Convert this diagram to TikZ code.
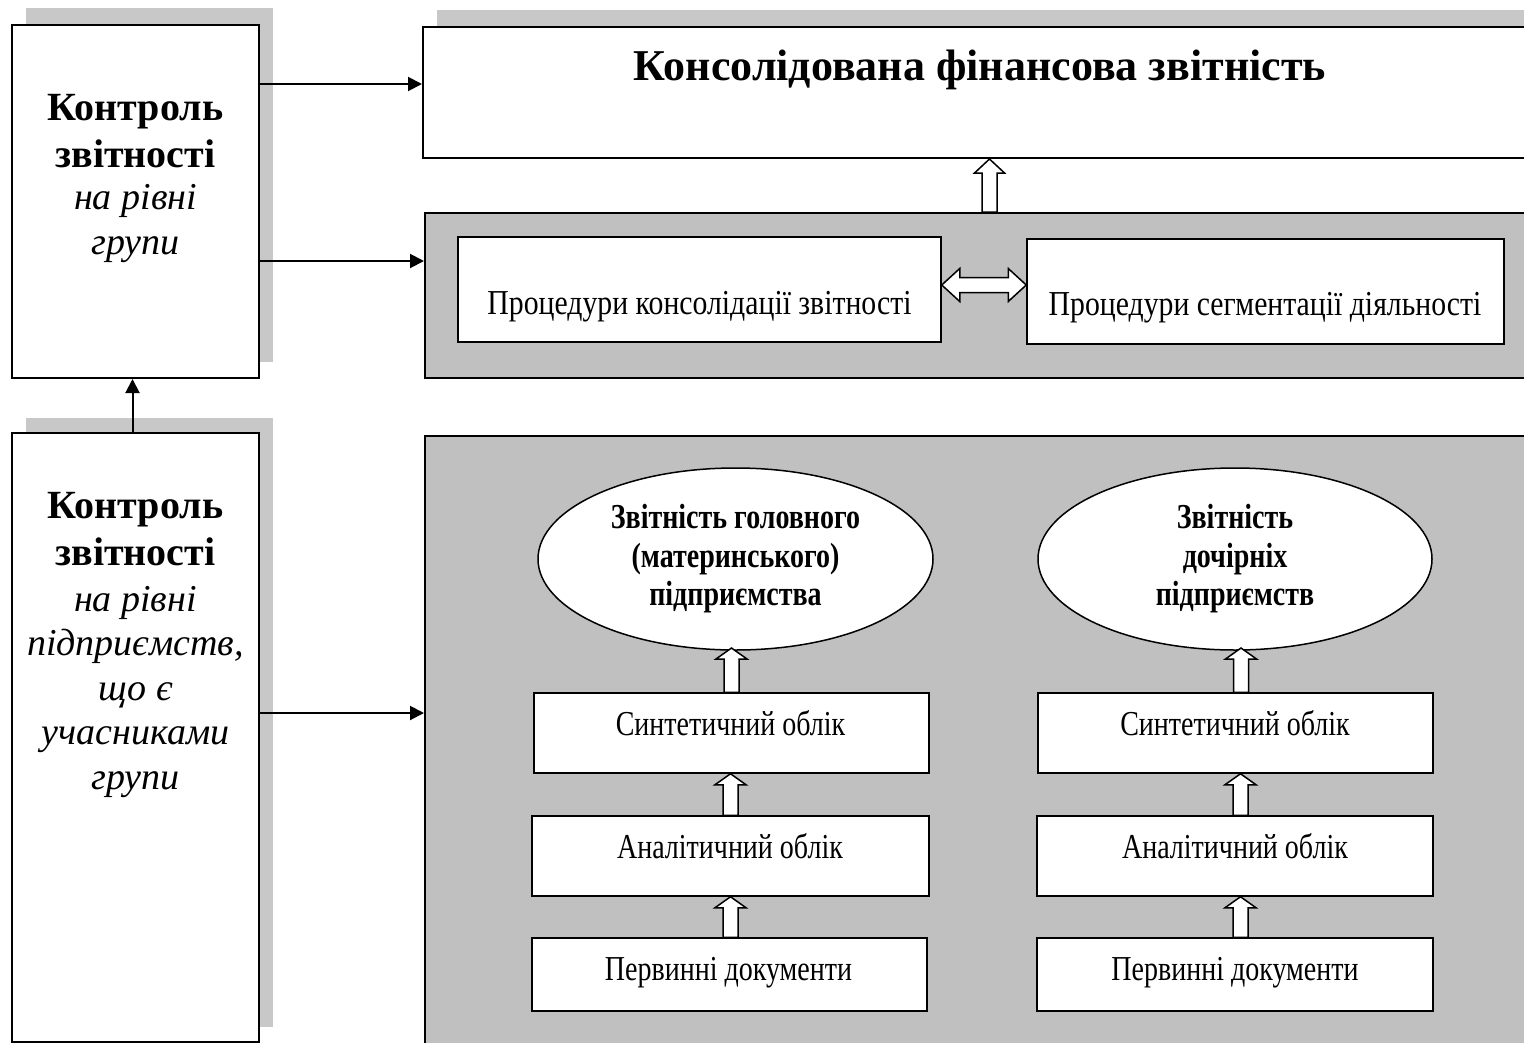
\documentclass[tikz,border=0pt]{standalone}
\usepackage{fontspec}
\setmainfont{Liberation Serif}
\newfontfamily\narrowserif[FakeStretch=0.8]{Liberation Serif}
\newfontfamily\procserif[FakeStretch=0.85]{Liberation Serif}
\usetikzlibrary{arrows.meta,calc,shapes.geometric}

\definecolor{panelgray}{HTML}{C0C0C0}
\definecolor{shadowgray}{HTML}{C8C8C8}

\tikzset{
  outerbox/.style={rectangle, draw=black, line width=2pt, fill=white, inner sep=0pt},
  innerbox/.style={rectangle, draw=black, line width=1.5pt, fill=white, inner sep=0pt},
  panel/.style={rectangle, draw=black, line width=2pt, fill=panelgray, inner sep=0pt},
  shadowfill/.style={fill=shadowgray, draw=none},
  feed/.style={line width=2pt, -{Triangle[length=14pt,width=14pt]}},
  hollowarrow/.style={draw=black, line width=1.5pt, fill=white, line join=miter},
  txt/.style={inner sep=0pt, anchor=base},
  headtxt/.style={txt, align=center, font=\bfseries\fontsize{40}{47}\selectfont},
  subtxt/.style={txt, align=center, font=\itshape\fontsize{38}{44.5}\selectfont},
  titletxt/.style={txt, font=\bfseries\fontsize{44}{50}\selectfont},
  celltxt/.style={txt, font=\narrowserif\fontsize{35}{40}\selectfont},
  proctxt/.style={txt, font=\procserif\fontsize{35}{40}\selectfont},
  elltxt/.style={ellipse, draw=black, line width=1.5pt, fill=white, inner sep=0pt,
    align=center, font=\narrowserif\bfseries\fontsize{35}{38.5}\selectfont},
}

% upward hollow arrow: tip, base, head half-width, head length
\newcommand{\hollowup}[4]{%
  \draw[hollowarrow] (#1) -- ($(#1)+(#3,#4)$) -- ($(#1)+(7.5,#4)$)
    -- ($(#2)+(7.5,0)$) -- ($(#2)+(-7.5,0)$) -- ($(#1)+(-7.5,#4)$)
    -- ($(#1)+(-#3,#4)$) -- cycle;}

\begin{document}
\begin{tikzpicture}[x=1pt,y=-1pt]
\useasboundingbox (0,0) rectangle (1524,1042);
\clip (0,0) rectangle (1524,1042);

% drop shadows
\fill[shadowfill] (26,8) rectangle (273,362);
\fill[shadowfill] (26,418) rectangle (273,1027);
\fill[shadowfill] (437,10) rectangle (1600,141);

% control boxes on the left (multi-line texts sit on their last baseline)
\node[outerbox, minimum width=247pt, minimum height=353pt] (ctl1) at (135.5,201.5) {};
\node[outerbox, minimum width=247pt, minimum height=609pt] (ctl2) at (135.5,737.5) {};
\node[headtxt] (ctl1head) at (135.5,167) {Контроль\\звітності};
\node[subtxt] (ctl1sub) at (135.5,254) {на рівні\\групи};
\node[headtxt] (ctl2head) at (135.5,565) {Контроль\\звітності};
\node[subtxt] (ctl2sub) at (135.5,789) {на рівні\\підприємств,\\що є\\учасниками\\групи};

% consolidated statements
\node[outerbox, minimum width=1137pt, minimum height=131pt] (consol) at (991.5,92.5) {};
\node[titletxt] (title) at (980,80) {Консолідована фінансова звітність};

% procedures panel
\node[panel, minimum width=1135pt, minimum height=165pt] (procbg) at (992.5,295.5) {};
\node[innerbox, minimum width=483pt, minimum height=105pt] (proc1) at (699.5,289.5) {};
\node[innerbox, minimum width=477pt, minimum height=105pt] (proc2) at (1265.5,291.5) {};
\node[proctxt] (proc1t) at (699.5,314) {Процедури консолідації звітності};
\node[proctxt] (proc2t) at (1265,315) {Процедури сегментації діяльності};

% accounting panel
\node[panel, minimum width=1135pt, minimum height=640pt] (accbg) at (992.5,756) {};

\node[elltxt, minimum width=395pt, minimum height=182pt] (ell1) at (735.5,559)
  {Звітність головного\\(материнського)\\підприємства};
\node[elltxt, minimum width=394pt, minimum height=182pt] (ell2) at (1235,559)
  {Звітність\\дочірніх\\підприємств};

\node[innerbox, minimum width=395pt, minimum height=80pt] (syn1) at (731.5,733) {};
\node[innerbox, minimum width=397pt, minimum height=80pt] (an1) at (730.5,856) {};
\node[innerbox, minimum width=395pt, minimum height=73pt] (pr1) at (729.5,974.5) {};
\node[innerbox, minimum width=395pt, minimum height=80pt] (syn2) at (1235.5,733) {};
\node[innerbox, minimum width=396pt, minimum height=80pt] (an2) at (1235,856) {};
\node[innerbox, minimum width=396pt, minimum height=73pt] (pr2) at (1235,974.5) {};

\node[celltxt] (syn1t) at (730.5,735) {Синтетичний облік};
\node[celltxt] (an1t) at (730,858) {Аналітичний облік};
\node[celltxt] (pr1t) at (728.5,980) {Первинні документи};
\node[celltxt] (syn2t) at (1235,735) {Синтетичний облік};
\node[celltxt] (an2t) at (1235,858) {Аналітичний облік};
\node[celltxt] (pr2t) at (1235,980) {Первинні документи};

% feed arrows from the control boxes
\draw[feed] (ctl1.east |- 0,84) -- (consol.west |- 0,84);
\draw[feed] (ctl1.east |- 0,261) -- (procbg.west |- 0,261);
\draw[feed] (ctl2.east |- 0,713) -- (accbg.west |- 0,713);
\draw[feed] ([xshift=-3pt]ctl2.north) -- ([xshift=-3pt]ctl1.south);

% hollow arrows
\coordinate (topt) at ([xshift=-2pt]consol.south);
\coordinate (topb) at (topt |- procbg.north);
\hollowup{topt}{topb}{15}{14}

\coordinate (a1t) at (syn1.north |- 0,648);
\coordinate (a1b) at (syn1.north);
\hollowup{a1t}{a1b}{15.5}{11}
\coordinate (a2t) at (an1.north |- syn1.south);
\coordinate (a2b) at (an1.north);
\hollowup{a2t}{a2b}{15.5}{11}
\coordinate (a3t) at (an1.south);
\coordinate (a3b) at (a3t |- pr1.north);
\hollowup{a3t}{a3b}{15.5}{11}

\coordinate (b1t) at ([xshift=5.5pt]syn2.north |- 0,648);
\coordinate (b1b) at (b1t |- syn2.north);
\hollowup{b1t}{b1b}{15.5}{11}
\coordinate (b2t) at ([xshift=5.5pt]an2.north |- syn2.south);
\coordinate (b2b) at (b2t |- an2.north);
\hollowup{b2t}{b2b}{15.5}{11}
\coordinate (b3t) at ([xshift=5.5pt]pr2.north |- an2.south);
\coordinate (b3b) at (b3t |- pr2.north);
\hollowup{b3t}{b3b}{15.5}{11}

% double hollow arrow between the procedure boxes
\coordinate (dl) at ([yshift=4.5pt]proc1.east);
\coordinate (dr) at (proc2.west |- dl);
\draw[hollowarrow] (dl) -- ($(dl)+(18,-16.5)$) -- ($(dl)+(18,-7.5)$)
  -- ($(dr)+(-18,-7.5)$) -- ($(dr)+(-18,-16.5)$) -- (dr)
  -- ($(dr)+(-18,16.5)$) -- ($(dr)+(-18,7.5)$) -- ($(dl)+(18,7.5)$)
  -- ($(dl)+(18,16.5)$) -- cycle;
\end{tikzpicture}
\end{document}
